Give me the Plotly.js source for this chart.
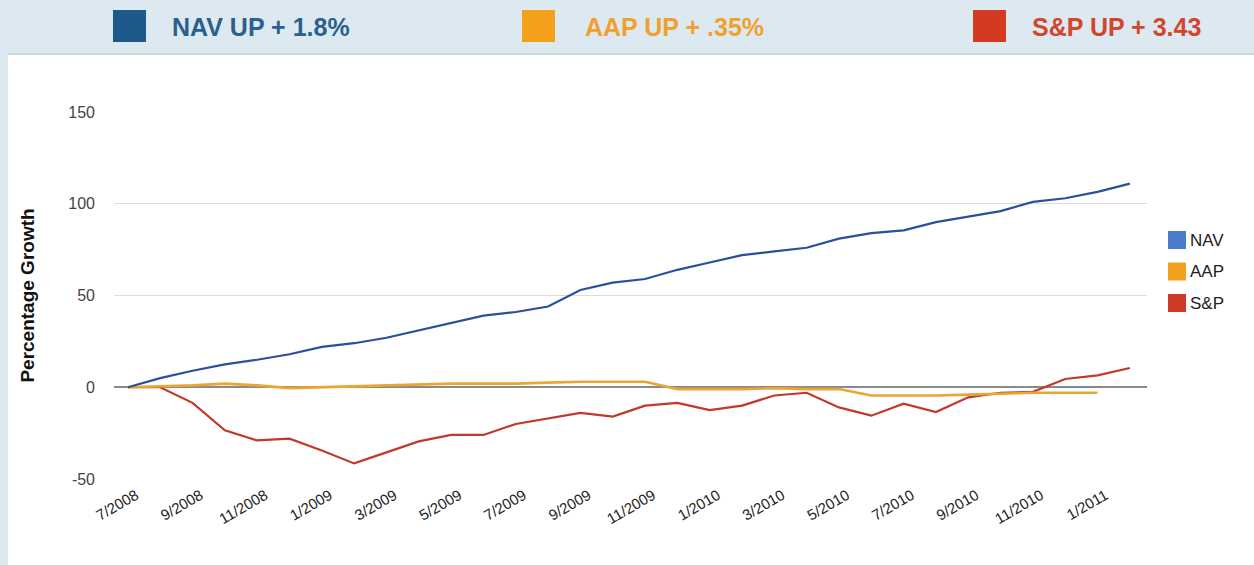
<!DOCTYPE html>
<html>
<head>
<meta charset="utf-8">
<script src="https://cdn.plot.ly/plotly-3.0.1.min.js"></script>
<style>
html,body{margin:0;padding:0;background:#dde9f0;}
#chart{width:1254px;height:565px;}
</style>
</head>
<body>
<div id="chart"></div>
<script>
// ---- data ----
var months = ['7/2008','8/2008','9/2008','10/2008','11/2008','12/2008',
  '1/2009','2/2009','3/2009','4/2009','5/2009','6/2009','7/2009','8/2009','9/2009','10/2009','11/2009','12/2009',
  '1/2010','2/2010','3/2010','4/2010','5/2010','6/2010','7/2010','8/2010','9/2010','10/2010','11/2010','12/2010',
  '1/2011','2/2011'];
var tickLabels = ['7/2008','9/2008','11/2008','1/2009','3/2009','5/2009','7/2009','9/2009','11/2009',
  '1/2010','3/2010','5/2010','7/2010','9/2010','11/2010','1/2011'];
var nav = [0, 5, 9, 12.5, 15, 18, 22, 24, 27, 31, 35, 39, 41, 44, 53, 57, 59, 64, 68, 72, 74, 76, 81, 84, 85.5, 90, 93, 96, 101, 103, 106.5, 111];
var aap = [0, 0.5, 1, 2, 1, -0.5, 0, 0.5, 1, 1.5, 2, 2, 2, 2.5, 3, 3, 3, -1, -1, -1, -0.5, -1, -1, -4.5, -4.5, -4.5, -4, -3.5, -3, -3, -3, null];
var snp = [0, 0, -8.5, -23.5, -29, -28, -34.5, -41.5, -35.5, -29.5, -26, -26, -20, -17, -14, -16, -10, -8.5, -12.5, -10, -4.5, -3, -11, -15.5, -9, -13.5, -5.5, -3, -2.5, 4.5, 6.5, 10.5];
var seriesNames = ['NAV', 'AAP', 'S&P'];
var bannerTexts = ['NAV UP + 1.8%', 'AAP UP + .35%', 'S&P UP + 3.43'];
var yTicks = [-50, 0, 50, 100, 150];
var yTickText = ['-50', '0', '50', '100', '150'];

// ---- styles ----
var lineColors = ['#2b4f9e', '#eaa532', '#c0392b'];
var legendColors = ['#4a7dcc', '#f2a11f', '#cf3a26'];
var bannerSwatch = ['#1d5a8b', '#f5a01b', '#d23b1f'];
var bannerTextColor = ['#2a5f8e', '#f0a02c', '#d4452e'];

var L = 114, R = 1147, T = 112, B = 479;
function px(x){ return (x - L) / (R - L); }
function py(y){ return (B - y) / (B - T); }

var idx = months.map(function(m, i){ return i; });
var tickIdx = tickLabels.map(function(t){ return months.indexOf(t); });

var traces = [
  {x: idx, y: snp, name: seriesNames[2], type: 'scatter', mode: 'lines', line: {color: lineColors[2], width: 2.2}},
  {x: idx, y: aap, name: seriesNames[1], type: 'scatter', mode: 'lines', line: {color: lineColors[1], width: 2.6}},
  {x: idx, y: nav, name: seriesNames[0], type: 'scatter', mode: 'lines', line: {color: lineColors[0], width: 2.2}}
];

var shapes = [
  {type: 'rect', xref: 'paper', yref: 'paper', layer: 'below', x0: px(8), x1: px(1260), y0: py(570), y1: py(55),
   fillcolor: '#ffffff', line: {width: 0}},
  {type: 'line', xref: 'paper', yref: 'paper', layer: 'below', x0: px(8), x1: px(1260), y0: py(54), y1: py(54),
   line: {color: '#c9d9e2', width: 2}}
];
var annotations = [];
var swX = [113, 522, 973];
var txX = [170, 583, 1030];
for (var i = 0; i < 3; i++) {
  shapes.push({type: 'rect', xref: 'paper', yref: 'paper', x0: px(swX[i]), x1: px(swX[i] + 33), y0: py(42), y1: py(10),
    fillcolor: bannerSwatch[i], line: {width: 0}});
  annotations.push({xref: 'paper', yref: 'paper', x: px(txX[i]), y: py(27), xanchor: 'left', yanchor: 'middle',
    showarrow: false, text: '<b>' + bannerTexts[i].replace('&', '&amp;') + '</b>',
    font: {family: 'Liberation Sans Narrow, Arial Narrow, Liberation Sans, Arial, sans-serif', size: 25, color: bannerTextColor[i]}});
  var ly = 231 + i * 31.5;
  shapes.push({type: 'rect', xref: 'paper', yref: 'paper', x0: px(1168), x1: px(1186), y0: py(ly + 18), y1: py(ly),
    fillcolor: legendColors[i], line: {width: 0}});
  annotations.push({xref: 'paper', yref: 'paper', x: px(1188), y: py(ly + 9), xanchor: 'left', yanchor: 'middle',
    showarrow: false, text: seriesNames[i].replace('&', '&amp;'),
    font: {family: 'Liberation Sans, Arial, sans-serif', size: 17, color: '#222'}});
}

var layout = {
  width: 1254, height: 565,
  margin: {l: L, r: 1254 - R, t: T, b: 565 - B, pad: 0},
  paper_bgcolor: '#dde9f0',
  plot_bgcolor: 'rgba(0,0,0,0)',
  showlegend: false,
  xaxis: {
    type: 'linear', range: [-0.43, 31.53],
    tickmode: 'array', tickvals: tickIdx, ticktext: tickLabels,
    tickangle: -30, showgrid: false, zeroline: false, showline: false, ticks: '',
    ticklabelstandoff: 4, ticklabelshift: 8,
    tickfont: {family: 'Liberation Sans, Arial, sans-serif', size: 15, color: '#222'}
  },
  yaxis: {
    range: [-50, 150], tickmode: 'array', tickvals: yTicks, ticktext: yTickText,
    showgrid: true, gridcolor: '#dcdcdc', gridwidth: 1,
    zeroline: true, zerolinecolor: '#8a8a8a', zerolinewidth: 2,
    ticks: '', ticklen: 0, ticklabelstandoff: 18,
    tickfont: {family: 'Liberation Sans, Arial, sans-serif', size: 16, color: '#444'},
    title: {text: '<b>Percentage Growth</b>', standoff: 28,
      font: {family: 'Liberation Sans Narrow, Arial Narrow, Liberation Sans, Arial, sans-serif', size: 19, color: '#111'}}
  },
  shapes: shapes,
  annotations: annotations
};

Plotly.newPlot('chart', traces, layout, {displayModeBar: false, staticPlot: true});
</script>
</body>
</html>
